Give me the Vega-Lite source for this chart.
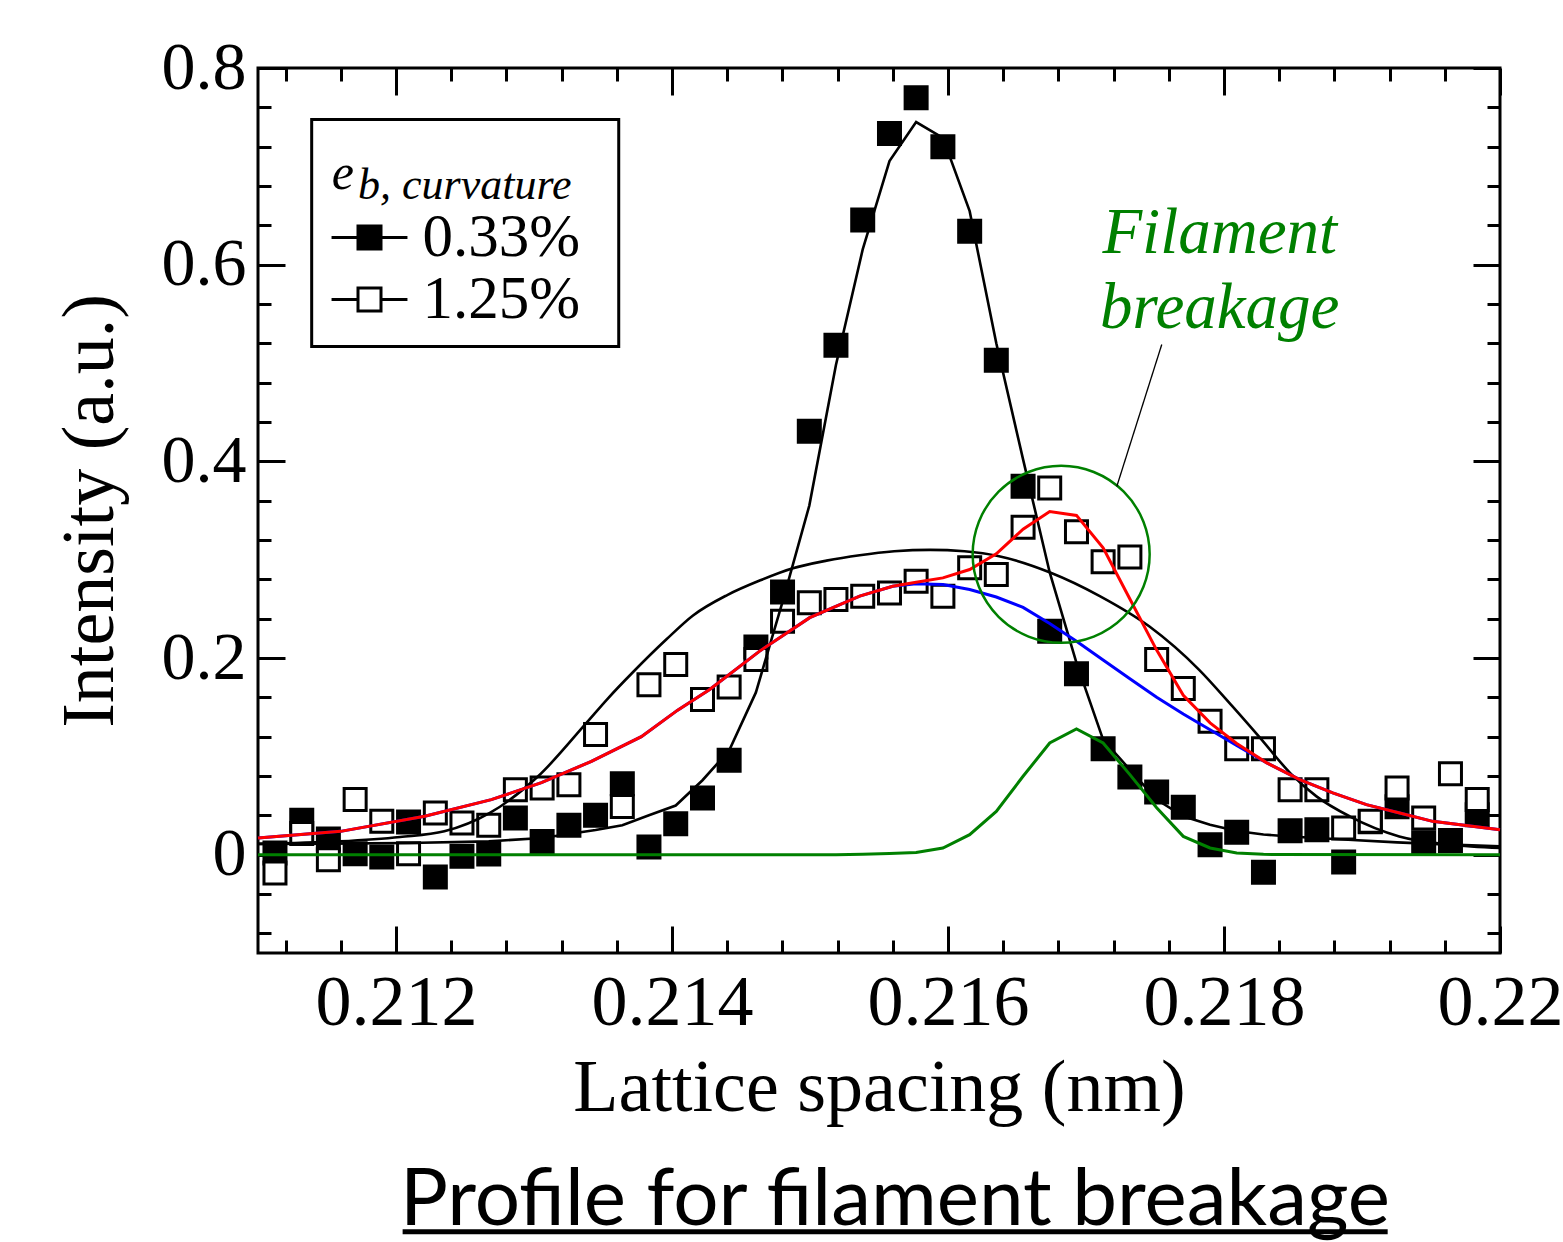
{
  "$schema": "https://vega.github.io/schema/vega-lite/v6.json",
  "width": 1242,
  "height": 885,
  "autosize": {"type": "none"},
  "padding": {"left": 258, "top": 68, "right": 63, "bottom": 289},
  "background": "white",
  "title": {"text": "Profile for filament breakage", "orient": "bottom", "anchor": "middle", "font": "Lato", "fontSize": 80, "fontWeight": "normal", "color": "black", "offset": -72, "dx": 16},
  "datasets": {
    "one": [{}],
    "pts": [
      {"x":0.211123,"y":0.0017,"s":"0.33%"},{"x":0.211317,"y":0.0349,"s":"0.33%"},{"x":0.211510,"y":0.0160,"s":"0.33%"},{"x":0.211704,"y":0.0010,"s":"0.33%"},{"x":0.211897,"y":-0.0023,"s":"0.33%"},{"x":0.212091,"y":0.0333,"s":"0.33%"},{"x":0.212285,"y":-0.0227,"s":"0.33%"},{"x":0.212478,"y":-0.0017,"s":"0.33%"},{"x":0.212672,"y":0.0007,"s":"0.33%"},{"x":0.212865,"y":0.0373,"s":"0.33%"},{"x":0.213059,"y":0.0135,"s":"0.33%"},{"x":0.213253,"y":0.0298,"s":"0.33%"},{"x":0.213446,"y":0.0400,"s":"0.33%"},{"x":0.213640,"y":0.0722,"s":"0.33%"},{"x":0.213833,"y":0.0078,"s":"0.33%"},{"x":0.214027,"y":0.0315,"s":"0.33%"},{"x":0.214221,"y":0.0577,"s":"0.33%"},{"x":0.214414,"y":0.0959,"s":"0.33%"},{"x":0.214608,"y":0.2113,"s":"0.33%"},{"x":0.214801,"y":0.2672,"s":"0.33%"},{"x":0.214995,"y":0.4306,"s":"0.33%"},{"x":0.215188,"y":0.5181,"s":"0.33%"},{"x":0.215382,"y":0.6453,"s":"0.33%"},{"x":0.215576,"y":0.7335,"s":"0.33%"},{"x":0.215769,"y":0.7698,"s":"0.33%"},{"x":0.215963,"y":0.7199,"s":"0.33%"},{"x":0.216157,"y":0.6341,"s":"0.33%"},{"x":0.216350,"y":0.5028,"s":"0.33%"},{"x":0.216544,"y":0.3747,"s":"0.33%"},{"x":0.216737,"y":0.2272,"s":"0.33%"},{"x":0.216931,"y":0.1841,"s":"0.33%"},{"x":0.217124,"y":0.1078,"s":"0.33%"},{"x":0.217318,"y":0.0790,"s":"0.33%"},{"x":0.217512,"y":0.0638,"s":"0.33%"},{"x":0.217705,"y":0.0481,"s":"0.33%"},{"x":0.217899,"y":0.0102,"s":"0.33%"},{"x":0.218092,"y":0.0227,"s":"0.33%"},{"x":0.218286,"y":-0.0180,"s":"0.33%"},{"x":0.218479,"y":0.0244,"s":"0.33%"},{"x":0.218673,"y":0.0254,"s":"0.33%"},{"x":0.218867,"y":-0.0074,"s":"0.33%"},{"x":0.219060,"y":0.0336,"s":"0.33%"},{"x":0.219254,"y":0.0488,"s":"0.33%"},{"x":0.219447,"y":0.0122,"s":"0.33%"},{"x":0.219641,"y":0.0145,"s":"0.33%"},{"x":0.219835,"y":0.0407,"s":"0.33%"},
      {"x":0.211123,"y":-0.0186,"s":"1.25%"},{"x":0.211317,"y":0.0214,"s":"1.25%"},{"x":0.211510,"y":-0.0051,"s":"1.25%"},{"x":0.211704,"y":0.0560,"s":"1.25%"},{"x":0.211897,"y":0.0339,"s":"1.25%"},{"x":0.212091,"y":0.0010,"s":"1.25%"},{"x":0.212285,"y":0.0424,"s":"1.25%"},{"x":0.212478,"y":0.0322,"s":"1.25%"},{"x":0.212672,"y":0.0298,"s":"1.25%"},{"x":0.212865,"y":0.0661,"s":"1.25%"},{"x":0.213059,"y":0.0679,"s":"1.25%"},{"x":0.213253,"y":0.0712,"s":"1.25%"},{"x":0.213446,"y":0.1221,"s":"1.25%"},{"x":0.213640,"y":0.0491,"s":"1.25%"},{"x":0.213833,"y":0.1729,"s":"1.25%"},{"x":0.214027,"y":0.1933,"s":"1.25%"},{"x":0.214221,"y":0.1577,"s":"1.25%"},{"x":0.214414,"y":0.1706,"s":"1.25%"},{"x":0.214608,"y":0.1984,"s":"1.25%"},{"x":0.214801,"y":0.2373,"s":"1.25%"},{"x":0.214995,"y":0.2561,"s":"1.25%"},{"x":0.215188,"y":0.2594,"s":"1.25%"},{"x":0.215382,"y":0.2628,"s":"1.25%"},{"x":0.215576,"y":0.2662,"s":"1.25%"},{"x":0.215769,"y":0.2780,"s":"1.25%"},{"x":0.215963,"y":0.2628,"s":"1.25%"},{"x":0.216157,"y":0.2917,"s":"1.25%"},{"x":0.216350,"y":0.2848,"s":"1.25%"},{"x":0.216544,"y":0.3330,"s":"1.25%"},{"x":0.216737,"y":0.3730,"s":"1.25%"},{"x":0.216931,"y":0.3283,"s":"1.25%"},{"x":0.217124,"y":0.2978,"s":"1.25%"},{"x":0.217318,"y":0.3028,"s":"1.25%"},{"x":0.217512,"y":0.1984,"s":"1.25%"},{"x":0.217705,"y":0.1689,"s":"1.25%"},{"x":0.217899,"y":0.1356,"s":"1.25%"},{"x":0.218092,"y":0.1078,"s":"1.25%"},{"x":0.218286,"y":0.1078,"s":"1.25%"},{"x":0.218479,"y":0.0661,"s":"1.25%"},{"x":0.218673,"y":0.0661,"s":"1.25%"},{"x":0.218867,"y":0.0272,"s":"1.25%"},{"x":0.219060,"y":0.0339,"s":"1.25%"},{"x":0.219254,"y":0.0679,"s":"1.25%"},{"x":0.219447,"y":0.0373,"s":"1.25%"},{"x":0.219641,"y":0.0824,"s":"1.25%"},{"x":0.219835,"y":0.0560,"s":"1.25%"}
    ],
    "crv": [
      {"x":0.2110,"y":0.0110,"c":"narrow"},{"x":0.211510,"y":0.0112,"c":"narrow"},{"x":0.212091,"y":0.0118,"c":"narrow"},{"x":0.212672,"y":0.0135,"c":"narrow"},{"x":0.213059,"y":0.0170,"c":"narrow"},{"x":0.213253,"y":0.0210,"c":"narrow"},{"x":0.213446,"y":0.0250,"c":"narrow"},{"x":0.213640,"y":0.0300,"c":"narrow"},{"x":0.213833,"y":0.0400,"c":"narrow"},{"x":0.214027,"y":0.0500,"c":"narrow"},{"x":0.214221,"y":0.0757,"c":"narrow"},{"x":0.214414,"y":0.1060,"c":"narrow"},{"x":0.214608,"y":0.1650,"c":"narrow"},{"x":0.214801,"y":0.2570,"c":"narrow"},{"x":0.214995,"y":0.3550,"c":"narrow"},{"x":0.215188,"y":0.4980,"c":"narrow"},{"x":0.215382,"y":0.6155,"c":"narrow"},{"x":0.215576,"y":0.7053,"c":"narrow"},{"x":0.215769,"y":0.7450,"c":"narrow"},{"x":0.215963,"y":0.7290,"c":"narrow"},{"x":0.216157,"y":0.6544,"c":"narrow"},{"x":0.216350,"y":0.5200,"c":"narrow"},{"x":0.216544,"y":0.4020,"c":"narrow"},{"x":0.216737,"y":0.2870,"c":"narrow"},{"x":0.216931,"y":0.1950,"c":"narrow"},{"x":0.217124,"y":0.1170,"c":"narrow"},{"x":0.217318,"y":0.0865,"c":"narrow"},{"x":0.217512,"y":0.0560,"c":"narrow"},{"x":0.217705,"y":0.0390,"c":"narrow"},{"x":0.217899,"y":0.0305,"c":"narrow"},{"x":0.218092,"y":0.0240,"c":"narrow"},{"x":0.218286,"y":0.0205,"c":"narrow"},{"x":0.218479,"y":0.0185,"c":"narrow"},{"x":0.218867,"y":0.0155,"c":"narrow"},{"x":0.219254,"y":0.0125,"c":"narrow"},{"x":0.219641,"y":0.0102,"c":"narrow"},{"x":0.2200,"y":0.0085,"c":"narrow"},
      {"x":0.21100,"y":0.0110,"c":"broad"},{"x":0.21159,"y":0.0135,"c":"broad"},{"x":0.21203,"y":0.0180,"c":"broad"},{"x":0.21235,"y":0.0237,"c":"broad"},{"x":0.21268,"y":0.0424,"c":"broad"},{"x":0.21303,"y":0.0797,"c":"broad"},{"x":0.21338,"y":0.1340,"c":"broad"},{"x":0.21353,"y":0.1580,"c":"broad"},{"x":0.21372,"y":0.1860,"c":"broad"},{"x":0.21396,"y":0.2190,"c":"broad"},{"x":0.21415,"y":0.2430,"c":"broad"},{"x":0.21440,"y":0.2640,"c":"broad"},{"x":0.21464,"y":0.2790,"c":"broad"},{"x":0.21487,"y":0.2910,"c":"broad"},{"x":0.21512,"y":0.2990,"c":"broad"},{"x":0.21536,"y":0.3045,"c":"broad"},{"x":0.21561,"y":0.3085,"c":"broad"},{"x":0.21587,"y":0.3100,"c":"broad"},{"x":0.21612,"y":0.3085,"c":"broad"},{"x":0.21637,"y":0.3035,"c":"broad"},{"x":0.21674,"y":0.2870,"c":"broad"},{"x":0.21710,"y":0.2630,"c":"broad"},{"x":0.21746,"y":0.2320,"c":"broad"},{"x":0.21782,"y":0.1880,"c":"broad"},{"x":0.21806,"y":0.1510,"c":"broad"},{"x":0.21826,"y":0.1190,"c":"broad"},{"x":0.21848,"y":0.0830,"c":"broad"},{"x":0.21867,"y":0.0593,"c":"broad"},{"x":0.21891,"y":0.0390,"c":"broad"},{"x":0.21927,"y":0.0186,"c":"broad"},{"x":0.21964,"y":0.0102,"c":"broad"},{"x":0.22000,"y":0.0068,"c":"broad"},
      {"x":0.2110,"y":0.0170,"c":"blue"},{"x":0.211599,"y":0.0237,"c":"blue"},{"x":0.212208,"y":0.0390,"c":"blue"},{"x":0.212691,"y":0.0560,"c":"blue"},{"x":0.213054,"y":0.0732,"c":"blue"},{"x":0.213416,"y":0.0949,"c":"blue"},{"x":0.213778,"y":0.1200,"c":"blue"},{"x":0.214041,"y":0.1470,"c":"blue"},{"x":0.214273,"y":0.1680,"c":"blue"},{"x":0.214635,"y":0.2070,"c":"blue"},{"x":0.214998,"y":0.2410,"c":"blue"},{"x":0.215360,"y":0.2630,"c":"blue"},{"x":0.215599,"y":0.2730,"c":"blue"},{"x":0.215769,"y":0.2755,"c":"blue"},{"x":0.215963,"y":0.2747,"c":"blue"},{"x":0.216157,"y":0.2696,"c":"blue"},{"x":0.216350,"y":0.2620,"c":"blue"},{"x":0.216544,"y":0.2515,"c":"blue"},{"x":0.216737,"y":0.2350,"c":"blue"},{"x":0.216931,"y":0.2170,"c":"blue"},{"x":0.217124,"y":0.1980,"c":"blue"},{"x":0.217318,"y":0.1790,"c":"blue"},{"x":0.217512,"y":0.1600,"c":"blue"},{"x":0.217705,"y":0.1430,"c":"blue"},{"x":0.217899,"y":0.1270,"c":"blue"},{"x":0.218092,"y":0.1110,"c":"blue"},{"x":0.218307,"y":0.0936,"c":"blue"},{"x":0.218549,"y":0.0763,"c":"blue"},{"x":0.218788,"y":0.0628,"c":"blue"},{"x":0.219032,"y":0.0509,"c":"blue"},{"x":0.219273,"y":0.0424,"c":"blue"},{"x":0.219512,"y":0.0339,"c":"blue"},{"x":0.2200,"y":0.0254,"c":"blue"},
      {"x":0.2110,"y":0.0170,"c":"red"},{"x":0.211599,"y":0.0237,"c":"red"},{"x":0.212208,"y":0.0390,"c":"red"},{"x":0.212691,"y":0.0560,"c":"red"},{"x":0.213054,"y":0.0732,"c":"red"},{"x":0.213416,"y":0.0949,"c":"red"},{"x":0.213778,"y":0.1200,"c":"red"},{"x":0.214041,"y":0.1470,"c":"red"},{"x":0.214273,"y":0.1680,"c":"red"},{"x":0.214635,"y":0.2070,"c":"red"},{"x":0.214998,"y":0.2410,"c":"red"},{"x":0.215360,"y":0.2630,"c":"red"},{"x":0.215599,"y":0.2730,"c":"red"},{"x":0.215769,"y":0.2770,"c":"red"},{"x":0.215963,"y":0.2815,"c":"red"},{"x":0.216157,"y":0.2900,"c":"red"},{"x":0.216350,"y":0.3060,"c":"red"},{"x":0.216544,"y":0.3310,"c":"red"},{"x":0.216737,"y":0.3490,"c":"red"},{"x":0.216931,"y":0.3450,"c":"red"},{"x":0.217124,"y":0.3120,"c":"red"},{"x":0.217318,"y":0.2600,"c":"red"},{"x":0.217512,"y":0.2080,"c":"red"},{"x":0.217705,"y":0.1620,"c":"red"},{"x":0.217899,"y":0.1340,"c":"red"},{"x":0.218092,"y":0.1130,"c":"red"},{"x":0.218307,"y":0.0936,"c":"red"},{"x":0.218549,"y":0.0763,"c":"red"},{"x":0.218788,"y":0.0628,"c":"red"},{"x":0.219032,"y":0.0509,"c":"red"},{"x":0.219273,"y":0.0424,"c":"red"},{"x":0.219512,"y":0.0339,"c":"red"},{"x":0.2200,"y":0.0254,"c":"red"},
      {"x":0.2110,"y":0,"c":"green"},{"x":0.215188,"y":0,"c":"green"},{"x":0.215382,"y":0.0005,"c":"green"},{"x":0.215576,"y":0.0012,"c":"green"},{"x":0.215769,"y":0.0023,"c":"green"},{"x":0.215963,"y":0.0068,"c":"green"},{"x":0.216157,"y":0.0203,"c":"green"},{"x":0.216350,"y":0.0440,"c":"green"},{"x":0.216544,"y":0.0797,"c":"green"},{"x":0.216737,"y":0.1136,"c":"green"},{"x":0.216931,"y":0.1279,"c":"green"},{"x":0.217124,"y":0.1136,"c":"green"},{"x":0.217318,"y":0.0814,"c":"green"},{"x":0.217512,"y":0.0478,"c":"green"},{"x":0.217705,"y":0.0186,"c":"green"},{"x":0.217899,"y":0.0068,"c":"green"},{"x":0.218092,"y":0.0017,"c":"green"},{"x":0.218286,"y":0.0003,"c":"green"},{"x":0.2200,"y":0,"c":"green"}
    ]
  },
  "resolve": {"axis": {"x": "independent", "y": "independent"}},
  "layer": [
    {
      "data": {"name": "one"},
      "mark": {"type": "rect", "fill": "white", "stroke": "black", "strokeWidth": 3},
      "encoding": {
        "x": {"datum": 0.211389, "type": "quantitative", "axis": null},
        "x2": {"datum": 0.213614},
        "y": {"datum": 0.7477, "type": "quantitative", "axis": null},
        "y2": {"datum": 0.5168}
      }
    },
    {
      "data": {"name": "pts"},
      "mark": {"type": "square", "filled": true, "stroke": "black", "strokeWidth": 3, "size": 484, "opacity": 1},
      "encoding": {
        "x": {"field": "x", "type": "quantitative", "scale": {"domain": [0.211, 0.22], "nice": false, "zero": false}, "axis": null},
        "y": {"field": "y", "type": "quantitative", "scale": {"domain": [-0.1, 0.8], "nice": false, "zero": false}, "axis": null},
        "fill": {"field": "s", "type": "nominal", "scale": {"domain": ["0.33%", "1.25%"], "range": ["black", "white"]},
          "legend": {"title": null, "orient": "none", "legendX": 81, "legendY": 139, "symbolType": "M-3.3,0H-1M1,0H3.3M-1,-1H1V1H-1Z", "symbolSize": 529, "symbolStrokeColor": "black", "symbolStrokeWidth": 3, "labelFont": "Liberation Serif", "labelFontSize": 61, "labelColor": "black", "labelOffset": 22.5, "rowPadding": 0, "padding": 0, "labelLimit": 400}}
      }
    },
    {
      "data": {"name": "crv"},
      "transform": [{"filter": "datum.c === 'broad'"}],
      "mark": {"type": "line", "color": "black", "strokeWidth": 2.6, "interpolate": "monotone"},
      "encoding": {
        "x": {"field": "x", "type": "quantitative", "scale": {"domain": [0.211, 0.22], "nice": false, "zero": false},
          "axis": {"orient": "bottom", "values": [0.212, 0.214, 0.216, 0.218, 0.22], "format": "~g", "labelFont": "Liberation Serif", "labelFontSize": 72, "labelColor": "black", "labelPadding": 41, "labelFlush": false, "labelOverlap": false, "tickSize": -27, "tickWidth": 3, "tickColor": "black", "domain": false, "grid": false, "title": "Lattice spacing (nm)", "titleFont": "Liberation Serif", "titleFontSize": 74, "titleFontWeight": "normal", "titleColor": "black", "titlePadding": 14}},
        "y": {"field": "y", "type": "quantitative", "scale": {"domain": [-0.1, 0.8], "nice": false, "zero": false},
          "axis": {"orient": "left", "values": [0, 0.2, 0.4, 0.6, 0.8], "format": "~g", "labelFont": "Liberation Serif", "labelFontSize": 68, "labelColor": "black", "labelPadding": 39, "labelFlush": false, "labelOverlap": false, "tickSize": -27, "tickWidth": 3, "tickColor": "black", "domain": false, "grid": false, "title": "Intensity (a.u.)", "titleFont": "Liberation Serif", "titleFontSize": 74, "titleFontWeight": "normal", "titleColor": "black", "titlePadding": 33}}
      }
    },
    {
      "data": {"name": "crv"},
      "transform": [{"filter": "datum.c === 'narrow'"}],
      "mark": {"type": "line", "color": "black", "strokeWidth": 2.6},
      "encoding": {
        "x": {"field": "x", "type": "quantitative", "scale": {"domain": [0.211, 0.22], "nice": false, "zero": false},
          "axis": {"orient": "bottom", "values": [0.2112, 0.2116, 0.2124, 0.2128, 0.2132, 0.2136, 0.2144, 0.2148, 0.2152, 0.2156, 0.2164, 0.2168, 0.2172, 0.2176, 0.2184, 0.2188, 0.2192, 0.2196], "labels": false, "tickSize": -13, "tickWidth": 3, "tickColor": "black", "domain": false, "grid": false, "title": null}},
        "y": {"field": "y", "type": "quantitative", "scale": {"domain": [-0.1, 0.8], "nice": false, "zero": false},
          "axis": {"orient": "left", "values": [-0.08, -0.04, 0.04, 0.08, 0.12, 0.16, 0.24, 0.28, 0.32, 0.36, 0.44, 0.48, 0.52, 0.56, 0.64, 0.68, 0.72, 0.76], "labels": false, "tickSize": -13, "tickWidth": 3, "tickColor": "black", "domain": false, "grid": false, "title": null}}
      }
    },
    {
      "data": {"name": "crv"},
      "transform": [{"filter": "datum.c === 'blue'"}],
      "mark": {"type": "line", "color": "#0000ff", "strokeWidth": 3},
      "encoding": {
        "x": {"field": "x", "type": "quantitative", "scale": {"domain": [0.211, 0.22], "nice": false, "zero": false},
          "axis": {"orient": "top", "values": [0.212, 0.214, 0.216, 0.218, 0.22], "labels": false, "tickSize": -27, "tickWidth": 3, "tickColor": "black", "domain": false, "grid": false, "title": null}},
        "y": {"field": "y", "type": "quantitative", "scale": {"domain": [-0.1, 0.8], "nice": false, "zero": false},
          "axis": {"orient": "right", "values": [0, 0.2, 0.4, 0.6, 0.8], "labels": false, "tickSize": -27, "tickWidth": 3, "tickColor": "black", "domain": false, "grid": false, "title": null}}
      }
    },
    {
      "data": {"name": "crv"},
      "transform": [{"filter": "datum.c === 'red'"}],
      "mark": {"type": "line", "color": "#ff0000", "strokeWidth": 3},
      "encoding": {
        "x": {"field": "x", "type": "quantitative", "scale": {"domain": [0.211, 0.22], "nice": false, "zero": false},
          "axis": {"orient": "top", "values": [0.2112, 0.2116, 0.2124, 0.2128, 0.2132, 0.2136, 0.2144, 0.2148, 0.2152, 0.2156, 0.2164, 0.2168, 0.2172, 0.2176, 0.2184, 0.2188, 0.2192, 0.2196], "labels": false, "tickSize": -13, "tickWidth": 3, "tickColor": "black", "domain": false, "grid": false, "title": null}},
        "y": {"field": "y", "type": "quantitative", "scale": {"domain": [-0.1, 0.8], "nice": false, "zero": false},
          "axis": {"orient": "right", "values": [-0.08, -0.04, 0.04, 0.08, 0.12, 0.16, 0.24, 0.28, 0.32, 0.36, 0.44, 0.48, 0.52, 0.56, 0.64, 0.68, 0.72, 0.76], "labels": false, "tickSize": -13, "tickWidth": 3, "tickColor": "black", "domain": false, "grid": false, "title": null}}
      }
    },
    {
      "data": {"name": "crv"},
      "transform": [{"filter": "datum.c === 'green'"}],
      "mark": {"type": "line", "color": "#008000", "strokeWidth": 3},
      "encoding": {
        "x": {"field": "x", "type": "quantitative", "scale": {"domain": [0.211, 0.22], "nice": false, "zero": false}, "axis": null},
        "y": {"field": "y", "type": "quantitative", "scale": {"domain": [-0.1, 0.8], "nice": false, "zero": false}, "axis": null}
      }
    },
    {
      "data": {"name": "one"},
      "mark": {"type": "point", "shape": "circle", "filled": false, "stroke": "#008000", "strokeWidth": 2.5, "size": 31329, "opacity": 1},
      "encoding": {
        "x": {"datum": 0.21682, "type": "quantitative", "axis": null},
        "y": {"datum": 0.3055, "type": "quantitative", "axis": null}
      }
    },
    {
      "data": {"name": "one"},
      "mark": {"type": "rule", "color": "black", "strokeWidth": 1.3},
      "encoding": {
        "x": {"datum": 0.217223, "type": "quantitative", "axis": null},
        "x2": {"datum": 0.217549},
        "y": {"datum": 0.3744, "type": "quantitative", "axis": null},
        "y2": {"datum": 0.5188}
      }
    },
    {
      "data": {"name": "one"},
      "mark": {"type": "text", "text": ["Filament", "breakage"], "font": "Liberation Serif", "fontStyle": "italic", "fontSize": 65, "color": "#008000", "align": "center", "baseline": "alphabetic", "lineHeight": 75},
      "encoding": {
        "x": {"datum": 0.217969, "type": "quantitative", "axis": null},
        "y": {"datum": 0.6121, "type": "quantitative", "axis": null}
      }
    },
    {
      "data": {"name": "one"},
      "mark": {"type": "text", "text": "e", "font": "Liberation Serif", "fontStyle": "italic", "fontSize": 50, "color": "black", "align": "left", "baseline": "alphabetic"},
      "encoding": {
        "x": {"datum": 0.211534, "type": "quantitative", "axis": null},
        "y": {"datum": 0.6765, "type": "quantitative", "axis": null}
      }
    },
    {
      "data": {"name": "one"},
      "mark": {"type": "text", "text": "b, curvature", "font": "Liberation Serif", "fontStyle": "italic", "fontSize": 44, "color": "black", "align": "left", "baseline": "alphabetic"},
      "encoding": {
        "x": {"datum": 0.211725, "type": "quantitative", "axis": null},
        "y": {"datum": 0.6663, "type": "quantitative", "axis": null}
      }
    },
    {
      "data": {"name": "one"},
      "mark": {"type": "rule", "color": "black", "strokeWidth": 5, "clip": false},
      "encoding": {
        "x": {"datum": 0.212048, "type": "quantitative", "axis": null},
        "x2": {"datum": 0.219186},
        "y": {"datum": -0.3835, "type": "quantitative", "axis": null}
      }
    }
  ],
  "config": {
    "view": {"stroke": "black", "strokeWidth": 3},
    "axis": {"labelColor": "black", "tickColor": "black", "titleColor": "black"}
  }
}
